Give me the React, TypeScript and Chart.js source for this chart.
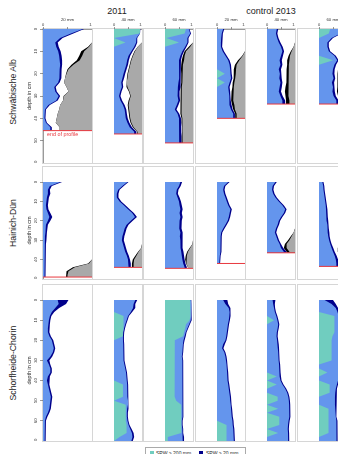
import React, { useEffect, useRef } from 'react';
import { Chart, registerables } from 'chart.js';

Chart.register(...registerables);
const FONT = "'Liberation Sans', Arial, Helvetica, sans-serif";
Chart.defaults.font.family = FONT;

// ---------- labels ----------
const yearTitles = ['2011', 'control 2013'];
const columnTitles = ['20 mm', '40 mm', '60 mm', '20 mm', '40 mm', '60 mm'];
const siteNames = ['Schwäbische Alb', 'Hainich-Dün', 'Schorfheide-Chorin'];
const rowMaxDepth = [60, 50, 70];
const depthStep = 2; // cm between readings
const legendLabels = ['SPW > 200 mm', 'SPW > 20 mm'];
const endLabel = 'end of profile';
const yTitle = 'depth in cm';

// ---------- end of profile depths (cm) ----------
const albEnd = [45.5, 47, 51, 40, 33.6, 33.6];
const haiEnd = [49, 44, 44.5, 42, 36.5, 43.5];
const schEnd = [70, 70, 70, 70, 70, 70];

// ---------- Schwäbische Alb (fractions, depth 0,2,4,...) ----------
const alb11_20Blue = [.81,.57,.35,.25,.27,.31,.33,.34,.35,.34,.34,.33,.31,.23,.25,.32,.27,.11,.04,.03,.03,.06,.15];
const alb11_20Navy = [.03,.05,.05,.05,.05,.05,.05,.05,.04,.04,.04,.04,.03,.03,.03,.03,.03,.03,.02,.02,.02,.02,.03];
const alb11_20Black = [0,0,0,0,.02,.06,.06,.06,.04,.02,.01,0,0,0,0,.01,0,0,0,0,0,0,0];
const alb11_20Grey = [0,0,0,0,.06,.16,.2,.25,.38,.48,.52,.55,.57,.52,.48,.57,.59,.65,.67,.7,.72,.74,.66];

const alb11_40Cyan = [.93,.92,0,.41,0,0,0,0,0,0,0,0,0,0,0,0,0,0,0,0,0,0,0,0];
const alb11_40Blue = [0,0,.8,.38,.72,.62,.52,.47,.44,.39,.34,.30,.26,.28,.22,.18,.23,.32,.38,.40,.42,.48,.56,.72];
const alb11_40Navy = [.01,.01,.03,.04,.05,.05,.06,.06,.06,.06,.06,.06,.05,.05,.05,.05,.06,.06,.06,.06,.07,.07,.08,.08];
const alb11_40Black = [0,0,0,0,0,.02,.02,.02,.02,.02,.02,.02,.02,.02,.02,.02,.03,.03,.03,.03,.03,.03,.03,.02];
const alb11_40Grey = [0,0,0,0,.15,.25,.32,.38,.42,.46,.50,.52,.55,.52,.45,.40,.45,.48,.46,.44,.42,.38,.30,.16];

const alb11_60Cyan = [.75,.7,.05,.5,0,0,0,0,0,0,0,0,0,0,0,0,0,0,0,0,0,0,0,0,0,0];
const alb11_60Blue = [.1,.2,.75,.3,.72,.62,.55,.5,.5,.5,.52,.5,.48,.46,.44,.46,.48,.42,.35,.45,.5,.5,.52,.52,.5,.5];
const alb11_60Navy = [.02,.03,.04,.04,.05,.06,.06,.07,.06,.05,.05,.06,.08,.08,.08,.06,.06,.06,.06,.06,.07,.08,.08,.08,.08,.08];
const alb11_60Black = [0,0,0,0,.05,.05,.06,.08,.06,.05,.04,.04,.04,.04,.04,.04,.04,.04,.04,.04,.03,.03,.03,.03,.03,.03];
const alb11_60Grey = [0,0,0,0,.1,.25,.3,.32,.36,.38,.38,.38,.38,.40,.42,.42,.40,.40,.40,.42,.38,.38,.36,.36,.38,.38];

const alb13_20Cyan = [0,0,0,0,0,0,0,0,0,0,.28,0,.28,0,0,0,0,0,0,0];
const alb13_20Blue = [.22,.17,.15,.14,.14,.2,.3,.4,.45,.47,.2,.5,.17,.4,.42,.44,.43,.46,.5,.58];
const alb13_20Navy = [.04,.04,.04,.04,.04,.05,.05,.05,.05,.05,.05,.05,.05,.05,.05,.05,.06,.06,.06,.06];
const alb13_20Black = [0,0,0,0,0,0,.02,.05,.06,.08,.07,.06,.06,.05,.06,.07,.08,.08,.06,.05];
const alb13_20Grey = [0,0,0,0,0,0,.08,.2,.3,.32,.33,.35,.38,.4,.42,.42,.42,.38,.36,.3];

const alb13_40Blue = [.35,.32,.36,.42,.5,.55,.5,.45,.48,.42,.46,.44,.48,.45,.42,.48,.55];
const alb13_40Navy = [.05,.05,.05,.06,.06,.06,.07,.08,.07,.08,.07,.08,.07,.08,.08,.08,.1];
const alb13_40Black = [0,0,0,0,0,.03,.05,.08,.06,.08,.06,.08,.08,.1,.12,.1,.12];
const alb13_40Grey = [0,0,0,0,.05,.12,.18,.2,.22,.22,.24,.24,.22,.24,.24,.24,.2];

const alb13_60Cyan = [.4,.35,0,0,0,0,0,.5,0,0,0,0,0,0,0,0,0];
const alb13_60Blue = [.4,.42,.45,.3,.3,.35,.55,.15,.55,.5,.48,.52,.46,.5,.48,.52,.62];
const alb13_60Navy = [.03,.04,.05,.05,.05,.05,.05,.05,.06,.06,.07,.06,.08,.07,.08,.08,.08];
const alb13_60Black = [0,0,0,0,0,0,0,0,.1,.12,.14,.12,.15,.14,.16,.14,.12];
const alb13_60Grey = [0,0,0,0,0,0,0,.1,.15,.2,.2,.22,.2,.2,.2,.18,.12];

// ---------- Hainich-Dün ----------
const hai11_20Blue = [.35,.14,.1,.1,.08,.07,.06,.07,.1,.13,.1,.06,.05,.05,.04,.04,.03,.03,.03,.03,.03,.03,.03,.03,.03];
const hai11_20Navy = [.04,.04,.04,.05,.04,.04,.04,.04,.05,.06,.05,.04,.04,.03,.03,.03,.03,.03,.02,.02,.02,.02,.02,.02,.02];
const hai11_20Black = [0,0,0,0,0,0,0,0,0,0,0,0,0,0,0,0,0,0,0,0,0,.02,.04,.04,.03];
const hai11_20Grey = [0,0,0,0,0,0,0,0,0,0,0,0,0,0,0,0,0,0,0,0,0,.06,.35,.48,.5];

const hai11_40Blue = [.48,.3,.15,.1,.1,.2,.35,.5,.65,.75,.6,.45,.38,.34,.3,.28,.32,.36,.4,.46,.5,.52];
const hai11_40Navy = [.04,.05,.05,.06,.06,.06,.06,.06,.06,.07,.07,.07,.07,.07,.07,.07,.07,.07,.07,.07,.07,.08];
const hai11_40Black = [0,0,0,0,0,0,0,0,0,0,0,0,0,0,0,0,0,0,.02,.04,.05,.06];
const hai11_40Grey = [0,0,0,0,0,0,0,0,0,0,0,0,0,0,0,0,0,.03,.12,.2,.28,.3];

const hai11_60Blue = [.55,.5,.42,.4,.45,.5,.52,.55,.52,.55,.52,.5,.52,.55,.53,.55,.55,.56,.58,.6,.62,.65,.7];
const hai11_60Navy = [.06,.06,.06,.06,.07,.07,.08,.08,.08,.08,.08,.08,.08,.08,.08,.08,.08,.08,.08,.08,.08,.08,.08];
const hai11_60Black = [0,0,0,0,0,0,0,0,0,0,0,0,0,0,0,0,0,.02,.03,.04,.03,.03,0];
const hai11_60Grey = [0,0,0,0,0,0,0,0,0,0,0,0,0,0,0,0,.02,.1,.18,.22,.25,.22,.18];

const hai13_20Blue = [.4,.25,.22,.25,.3,.35,.4,.48,.45,.42,.38,.3,.22,.15,.13,.13,.12,.12,.12,.1,.08];
const hai13_20Navy = [.05,.05,.05,.05,.05,.05,.05,.05,.05,.05,.05,.05,.05,.04,.04,.04,.04,.04,.03,.03,.03];

const hai13_40Blue = [.3,.2,.18,.22,.3,.42,.55,.65,.6,.5,.42,.38,.32,.28,.33,.38,.45,.5,.6];
const hai13_40Navy = [.05,.05,.05,.05,.05,.05,.05,.05,.05,.05,.05,.05,.05,.05,.05,.05,.05,.08,.1];
const hai13_40Black = [0,0,0,0,0,0,0,0,0,0,0,0,0,0,.03,.05,.06,.1,.1];
const hai13_40Grey = [0,0,0,0,0,0,0,0,0,0,0,0,0,.05,.12,.2,.3,.3,.2];

const hai13_60Blue = [.12,.15,.16,.18,.2,.22,.24,.25,.26,.27,.28,.3,.3,.32,.33,.36,.4,.45,.5,.56,.6,.62];
const hai13_60Navy = [.04,.04,.04,.04,.04,.04,.04,.05,.05,.05,.05,.05,.05,.05,.05,.05,.05,.06,.06,.07,.08,.08];
const hai13_60Black = [0,0,0,0,0,0,0,0,0,0,0,0,0,0,0,0,.06,.08,.08,.08,.06,.05];
const hai13_60Grey = [0,0,0,0,0,0,0,0,0,0,0,0,0,0,0,.05,.2,.25,.25,.2,.18,.1];

// ---------- Schorfheide-Chorin ----------
const sch11_20Blue = [.3,.32,.25,.18,.14,.12,.11,.1,.1,.13,.18,.2,.22,.2,.15,.08,.12,.15,.15,.1,.08,.1,.12,.14,.16,.15,.14,.13,.1,.06,.04,.04,.03,.04,.03,.03];
const sch11_20Navy = [.22,.15,.08,.05,.03,.03,.03,.03,.03,.03,.03,.03,.03,.03,.04,.05,.03,.03,.03,.04,.05,.03,.03,.03,.03,.03,.03,.03,.03,.03,.02,.02,.02,.02,.02,.02];

const sch11_40Cyan = [0,0,0,0,.34,.34,.34,.34,.32,.32,0,0,0,0,0,0,0,0,0,0,0,.32,.32,.32,.32,0,.42,.42,.42,.42,.42,.45,.45,.45,.2,0];
const sch11_40Blue = [.76,.7,.68,.6,.16,.11,.06,.02,.01,0,.32,.33,.33,.34,.34,.35,.37,.4,.43,.45,.46,.15,.15,.16,.16,.5,.08,.05,.04,.04,.06,.07,.13,.19,.46,.62];
const sch11_40Navy = [.07,.06,.08,.05,.035,.035,.035,.035,.035,.035,.035,.035,.035,.035,.035,.035,.035,.035,.035,.035,.035,.035,.035,.035,.035,.035,.035,.035,.035,.035,.035,.035,.05,.06,.06,.05];

const sch11_60Cyan = [.9,.92,.92,.9,.9,.88,.75,.72,.68,.65,.35,.33,.33,.33,.33,.35,.35,.35,.35,.35,.35,.35,.35,.35,.35,.4,.58,.58,.58,.58,.58,.58,.6,.58,.1,.1];
const sch11_60Blue = [.02,.02,.02,.03,.03,.04,.11,.08,.06,.05,.31,.31,.29,.29,.27,.27,.28,.29,.28,.27,.27,.28,.29,.29,.28,.22,.04,.04,.04,.04,.02,.02,.02,.04,.54,.54];
const sch11_60Navy = [.02,.02,.02,.02,.02,.03,.03,.03,.03,.04,.04,.03,.03,.03,.03,.03,.03,.03,.03,.03,.03,.03,.03,.03,.03,.03,.03,.03,.03,.03,.03,.03,.03,.03,.04,.04];

const sch13_20Cyan = [0,0,0,0,0,0,0,0,0,0,0,0,0,0,0,0,0,0,0,0,0,0,0,0,0,0,0,0,0,0,0,.34,.34,.34,.34,.34];
const sch13_20Blue = [.22,.3,.42,.45,.44,.42,.39,.37,.35,.33,.3,.22,.18,.26,.3,.32,.34,.35,.36,.37,.38,.4,.42,.44,.46,.47,.49,.5,.52,.53,.55,.22,.24,.26,.26,.26];
const sch13_20Navy = [.15,.1,.06,.04,.04,.04,.04,.04,.04,.04,.04,.06,.05,.04,.04,.04,.04,.04,.04,.04,.04,.04,.04,.04,.04,.04,.04,.04,.04,.04,.04,.04,.04,.04,.04,.04];

const sch13_40Cyan = [0,0,0,0,0,.25,0,0,0,0,0,0,0,0,0,0,0,0,0,.35,0,.35,0,0,.38,.38,0,.4,0,.44,.44,.44,0,.4,0,0];
const sch13_40Blue = [.2,.22,.25,.28,.33,.12,.4,.38,.35,.34,.36,.38,.39,.4,.41,.42,.43,.44,.45,.11,.48,.2,.65,.72,.38,.4,.79,.4,.8,.35,.33,.31,.74,.35,.76,.75];
const sch13_40Navy = [.1,.06,.04,.04,.04,.04,.04,.04,.04,.04,.04,.04,.04,.04,.04,.04,.04,.04,.04,.04,.04,.04,.04,.04,.04,.04,.04,.04,.04,.04,.04,.04,.04,.04,.04,.04];

const sch13_60Cyan = [0,0,0,0,.55,.55,.55,.55,.55,.48,.45,.45,.45,.45,.45,.45,0,0,.3,0,0,.38,.38,.38,0,0,0,.34,.34,.34,.34,.34,.34,.34,0,0];
const sch13_60Blue = [.2,.45,.6,.66,.15,.18,.21,.22,.23,.28,.27,.25,.25,.25,.27,.29,.73,.72,.42,.7,.68,.26,.22,.2,.57,.57,.57,.24,.26,.26,.28,.29,.29,.29,.62,.62];
const sch13_60Navy = [.3,.15,.08,.05,.04,.04,.04,.04,.04,.04,.04,.04,.04,.04,.04,.04,.04,.04,.04,.04,.04,.04,.04,.04,.04,.04,.04,.04,.04,.04,.04,.04,.04,.04,.04,.04];

// ---------- style ----------
const CYAN = '#70cdbf';
const BLUE = '#6495ed';
const NAVY = '#00008b';
const BLACK = '#000000';
const GREY = '#a9a9a9';
const RED = '#e8393f';

const COL_X = [43, 93, 144, 196, 246, 298];
const COL_W = 49;
const ROW_Y = [29, 167, 285];
const ROW_H = [134, 112, 156];
const Y_AXIS_W = 21;
const X_AXIS_H = 15;

type Profile = { cyan?: number[]; blue: number[]; navy: number[]; black?: number[]; grey?: number[]; end: number };

const profiles: Profile[][] = [
  [
    { blue: alb11_20Blue, navy: alb11_20Navy, black: alb11_20Black, grey: alb11_20Grey, end: albEnd[0] },
    { cyan: alb11_40Cyan, blue: alb11_40Blue, navy: alb11_40Navy, black: alb11_40Black, grey: alb11_40Grey, end: albEnd[1] },
    { cyan: alb11_60Cyan, blue: alb11_60Blue, navy: alb11_60Navy, black: alb11_60Black, grey: alb11_60Grey, end: albEnd[2] },
    { cyan: alb13_20Cyan, blue: alb13_20Blue, navy: alb13_20Navy, black: alb13_20Black, grey: alb13_20Grey, end: albEnd[3] },
    { blue: alb13_40Blue, navy: alb13_40Navy, black: alb13_40Black, grey: alb13_40Grey, end: albEnd[4] },
    { cyan: alb13_60Cyan, blue: alb13_60Blue, navy: alb13_60Navy, black: alb13_60Black, grey: alb13_60Grey, end: albEnd[5] },
  ],
  [
    { blue: hai11_20Blue, navy: hai11_20Navy, black: hai11_20Black, grey: hai11_20Grey, end: haiEnd[0] },
    { blue: hai11_40Blue, navy: hai11_40Navy, black: hai11_40Black, grey: hai11_40Grey, end: haiEnd[1] },
    { blue: hai11_60Blue, navy: hai11_60Navy, black: hai11_60Black, grey: hai11_60Grey, end: haiEnd[2] },
    { blue: hai13_20Blue, navy: hai13_20Navy, end: haiEnd[3] },
    { blue: hai13_40Blue, navy: hai13_40Navy, black: hai13_40Black, grey: hai13_40Grey, end: haiEnd[4] },
    { blue: hai13_60Blue, navy: hai13_60Navy, black: hai13_60Black, grey: hai13_60Grey, end: haiEnd[5] },
  ],
  [
    { blue: sch11_20Blue, navy: sch11_20Navy, end: schEnd[0] },
    { cyan: sch11_40Cyan, blue: sch11_40Blue, navy: sch11_40Navy, end: schEnd[1] },
    { cyan: sch11_60Cyan, blue: sch11_60Blue, navy: sch11_60Navy, end: schEnd[2] },
    { cyan: sch13_20Cyan, blue: sch13_20Blue, navy: sch13_20Navy, end: schEnd[3] },
    { cyan: sch13_40Cyan, blue: sch13_40Blue, navy: sch13_40Navy, end: schEnd[4] },
    { cyan: sch13_60Cyan, blue: sch13_60Blue, navy: sch13_60Navy, end: schEnd[5] },
  ],
];

function Panel({ row, col, p }: { row: number; col: number; p: Profile }) {
  const ref = useRef<HTMLCanvasElement>(null);
  const hasY = col === 0;
  const hasX = row === 0;
  const left = COL_X[col] - (hasY ? Y_AXIS_W : 0);
  const top = ROW_Y[row] - (hasX ? X_AXIS_H : 0);
  const width = COL_W + (hasY ? Y_AXIS_W : 0);
  const height = ROW_H[row] + (hasX ? X_AXIS_H : 0);
  const maxDepth = rowMaxDepth[row];

  useEffect(() => {
    if (!ref.current) return;
    const n = p.blue.length;
    const depths: number[] = [];
    const idx: number[] = [];
    for (let i = 0; i < n; i++) { depths.push(i * depthStep); idx.push(i); }
    if (p.end > depths[n - 1]) { depths.push(p.end); idx.push(n - 1); }
    const v = (a: number[] | undefined, i: number) => (a ? a[i] : 0);
    const mk = (f: (i: number) => number) => depths.map((y, k) => ({ x: f(idx[k]), y }));

    const zero = mk(() => 0);
    const one = mk(() => 1);
    const area = (data: any, target: number, color: string) => ({
      data, fill: target, backgroundColor: color, borderWidth: 0, pointRadius: 0,
    });

    const datasets: any[] = [
      { data: p.end < maxDepth ? [{ x: 0, y: p.end }, { x: 1, y: p.end }] : [], borderColor: RED, borderWidth: 1, fill: false, pointRadius: 0 },
      { data: zero, borderWidth: 0, fill: false, pointRadius: 0 },
      { data: one, borderWidth: 0, fill: false, pointRadius: 0 },
    ];
    if (p.cyan) datasets.push(area(mk((i) => v(p.cyan, i)), 1, CYAN));
    datasets.push(area(mk((i) => v(p.cyan, i) + v(p.blue, i)), 1, BLUE));
    datasets.push(area(mk((i) => v(p.cyan, i) + v(p.blue, i) + v(p.navy, i)), 1, NAVY));
    if (p.grey) datasets.push(area(mk((i) => 1 - v(p.grey, i)), 2, GREY));
    if (p.black) datasets.push(area(mk((i) => 1 - v(p.grey, i) - v(p.black, i)), 2, BLACK));

    const chart = new Chart(ref.current, {
      type: 'line',
      data: { datasets },
      options: {
        animation: false,
        responsive: false,
        maintainAspectRatio: false,
        indexAxis: 'y',
        events: [],
        layout: { padding: 0 },
        elements: { line: { tension: 0 }, point: { radius: 0 } },
        plugins: { legend: { display: false }, tooltip: { enabled: false }, title: { display: false } },
        scales: {
          x: {
            type: 'linear', min: 0, max: 1, position: 'top', display: hasX,
            title: { display: true, text: columnTitles[col], color: '#333', font: { size: 4.3 }, padding: { top: 3, bottom: 0 } },
            ticks: {
              stepSize: 0.5, autoSkip: false, minRotation: 0, maxRotation: 0, padding: 0, color: '#333',
              font: { size: 4 },
              callback: (val: any) => (val === 0 ? '0' : val === 1 ? '1.0' : ''),
            },
            grid: { drawOnChartArea: false, drawTicks: true, tickLength: 2, color: '#555', lineWidth: 0.6 },
            border: { display: true, color: '#555', width: 0.6 },
            afterFit: (s: any) => { s.height = X_AXIS_H; s.paddingLeft = 0; s.paddingRight = 0; },
          },
          y: {
            type: 'linear', min: 0, max: maxDepth, reverse: true, position: 'left', display: hasY,
            title: { display: true, text: yTitle, color: '#333', font: { size: 5.4 }, padding: { top: 4, bottom: 0 } },
            ticks: {
              stepSize: 10, autoSkip: false, minRotation: 90, maxRotation: 90, crossAlign: 'center',
              padding: 2, color: '#333', font: { size: 4.2 },
            },
            grid: { drawOnChartArea: false, drawTicks: true, tickLength: 3, color: '#555', lineWidth: 0.6 },
            border: { display: true, color: '#555', width: 0.6 },
            afterFit: (s: any) => { s.width = Y_AXIS_W; s.paddingTop = 0; s.paddingBottom = 0; },
          },
        },
      } as any,
    });
    return () => chart.destroy();
  }, [row, col, p]);

  return (
    <div style={{ position: 'absolute', left, top, width, height }}>
      <canvas ref={ref} width={width} height={height} style={{ width, height }} />
    </div>
  );
}

const centered = (cx: number, cy: number, rotate = false): React.CSSProperties => ({
  position: 'absolute', left: cx, top: cy, whiteSpace: 'nowrap', lineHeight: 1,
  transform: `translate(-50%, -50%)${rotate ? ' rotate(-90deg)' : ''}`,
});

export default function App() {
  const frames: React.ReactNode[] = [];
  const panels: React.ReactNode[] = [];
  profiles.forEach((rowP, r) =>
    rowP.forEach((p, c) => {
      frames.push(
        <div key={`f${r}${c}`} style={{
          position: 'absolute', left: COL_X[c] - 1, top: ROW_Y[r] - 1, width: COL_W + 2, height: ROW_H[r] + 2,
          border: '1px solid #d6d6d6', boxSizing: 'border-box',
        }} />
      );
      panels.push(<Panel key={`p${r}${c}`} row={r} col={c} p={p} />);
    })
  );
  const rowCenters = ROW_Y.map((y, i) => y + ROW_H[i] / 2);
  return (
    <div style={{ position: 'absolute', left: 0, top: 0, width: 338, height: 454, overflow: 'hidden', background: '#fff', fontFamily: FONT, color: '#222' }}>
      <div style={{ ...centered(117, 11), fontSize: 9 }}>{yearTitles[0]}</div>
      <div style={{ ...centered(271, 10.5), fontSize: 9 }}>{yearTitles[1]}</div>
      {siteNames.map((s, i) => (
        <div key={s} style={{ ...centered(13, rowCenters[i] - (i === 0 ? 4 : 0), true), fontSize: 8.7 }}>{s}</div>
      ))}
      {frames}
      {panels}
      <div style={{ position: 'absolute', left: 47, top: 135, transform: 'translateY(-50%)', fontSize: 5.4, color: RED, whiteSpace: 'nowrap', lineHeight: 1 }}>{endLabel}</div>
      <div style={{ position: 'absolute', left: 145, top: 447, width: 101, height: 14, border: '1px solid #aaa', boxSizing: 'border-box' }} />
      <div style={{ position: 'absolute', left: 150, top: 450.5, width: 3.5, height: 3.5, background: CYAN }} />
      <div style={{ position: 'absolute', left: 156, top: 452.5, transform: 'translateY(-50%)', fontSize: 5, whiteSpace: 'nowrap', lineHeight: 1 }}>{legendLabels[0]}</div>
      <div style={{ position: 'absolute', left: 199, top: 450.5, width: 3.5, height: 3.5, background: NAVY }} />
      <div style={{ position: 'absolute', left: 206, top: 452.5, transform: 'translateY(-50%)', fontSize: 5, whiteSpace: 'nowrap', lineHeight: 1 }}>{legendLabels[1]}</div>
    </div>
  );
}
